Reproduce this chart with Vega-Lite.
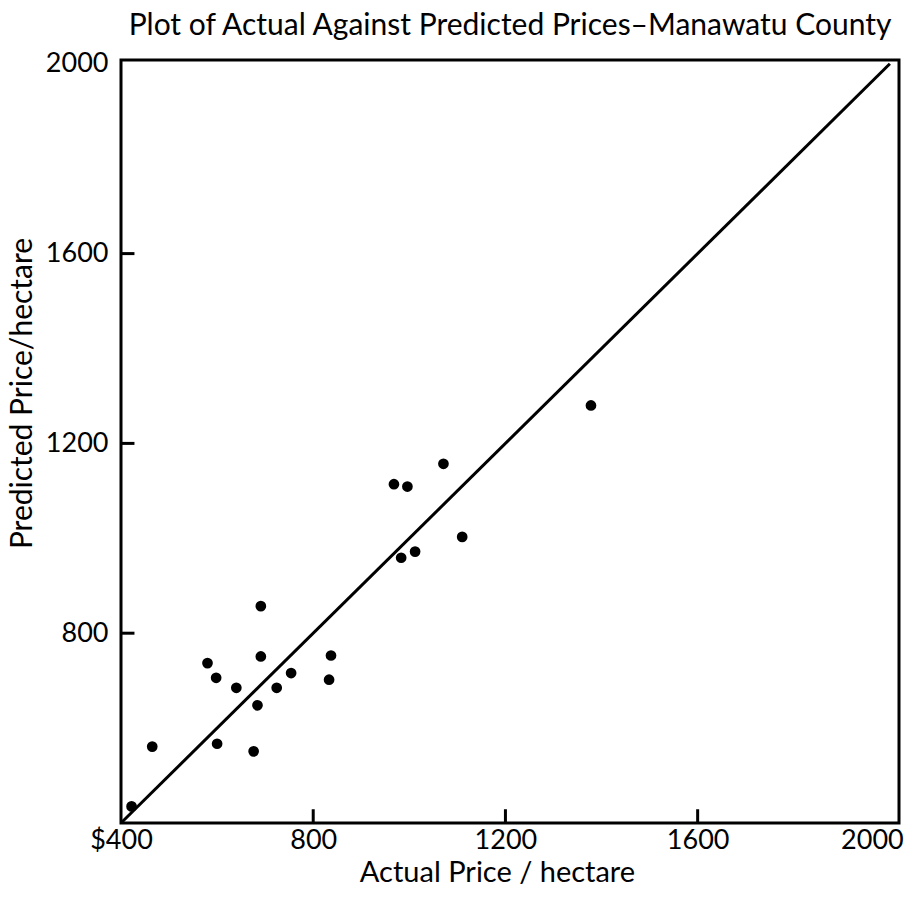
{
  "$schema": "https://vega.github.io/schema/vega-lite/v6.json",
  "autosize": {"type": "none"},
  "padding": {"left": 121, "top": 60, "right": 11, "bottom": 78},
  "width": 778,
  "height": 763,
  "background": "white",
  "title": {
    "text": "Plot of Actual Against Predicted Prices–Manawatu County",
    "font": "Lato",
    "fontSize": 30,
    "fontWeight": "normal",
    "color": "black",
    "anchor": "middle",
    "frame": "group",
    "baseline": "bottom",
    "offset": 18,
    "dy": 39
  },
  "config": {
    "view": {"stroke": "black", "strokeWidth": 3},
    "axis": {
      "domain": false,
      "grid": false,
      "ticks": false,
      "labelFlush": false,
      "labelFont": "Lato",
      "labelFontSize": 27,
      "labelColor": "black",
      "titleFont": "Lato",
      "titleFontWeight": "normal",
      "titleColor": "black"
    }
  },
  "datasets": {
    "points": [
      {"actual": 422, "predicted": 435},
      {"actual": 465, "predicted": 561},
      {"actual": 580, "predicted": 737},
      {"actual": 598, "predicted": 706},
      {"actual": 640, "predicted": 685},
      {"actual": 691, "predicted": 857},
      {"actual": 691, "predicted": 751},
      {"actual": 684, "predicted": 648},
      {"actual": 600, "predicted": 567},
      {"actual": 676, "predicted": 551},
      {"actual": 724, "predicted": 685},
      {"actual": 754, "predicted": 716},
      {"actual": 837, "predicted": 753},
      {"actual": 833, "predicted": 702},
      {"actual": 1378, "predicted": 1280},
      {"actual": 1071, "predicted": 1157},
      {"actual": 968, "predicted": 1114},
      {"actual": 996, "predicted": 1109},
      {"actual": 1110, "predicted": 1003},
      {"actual": 1012, "predicted": 972},
      {"actual": 983, "predicted": 959}
    ],
    "line": [
      {"actual": 400, "predicted": 400, "actual2": 2000, "predicted2": 2000}
    ],
    "tickvals": [
      {"v": 800},
      {"v": 1200},
      {"v": 1600}
    ]
  },
  "layer": [
    {
      "data": {"name": "line"},
      "mark": {"type": "rule", "color": "black", "strokeWidth": 3},
      "encoding": {
        "x": {
          "field": "actual", "type": "quantitative",
          "scale": {"domain": [400, 2019], "nice": false, "zero": false},
          "axis": {
            "values": [400, 800, 1200, 1600, 2000],
            "labelExpr": "datum.value == 400 ? '$400' : datum.label",
            "format": "d",
            "labelPadding": 4,
            "labelBaseline": "top",
            "labelOffset": {"condition": {"test": "datum.value == 2000", "value": -18}, "value": 0},
            "title": "Actual Price / hectare",
            "titleFontSize": 29,
            "titleX": 376,
            "titleY": 49,
            "titleBaseline": "middle",
            "titleAnchor": "middle"
          }
        },
        "y": {
          "field": "predicted", "type": "quantitative",
          "scale": {"domain": [400, 2008], "nice": false, "zero": false},
          "axis": {
            "values": [800, 1200, 1600, 2000],
            "format": "d",
            "labelPadding": 13,
            "title": "Predicted Price/hectare",
            "titleFontSize": 30,
            "titleX": -99,
            "titleY": 333,
            "titleBaseline": "middle",
            "titleAnchor": "middle"
          }
        },
        "x2": {"field": "actual2"},
        "y2": {"field": "predicted2"}
      }
    },
    {
      "data": {"name": "tickvals"},
      "mark": {"type": "rule", "color": "black", "strokeWidth": 3},
      "encoding": {
        "x": {"field": "v", "type": "quantitative"},
        "y": {"datum": 400, "type": "quantitative"},
        "y2": {"datum": 429}
      }
    },
    {
      "data": {"name": "tickvals"},
      "mark": {"type": "rule", "color": "black", "strokeWidth": 3},
      "encoding": {
        "y": {"field": "v", "type": "quantitative"},
        "x": {"datum": 400, "type": "quantitative"},
        "x2": {"datum": 428}
      }
    },
    {
      "data": {"name": "points"},
      "mark": {"type": "circle", "color": "black", "opacity": 1, "size": 115},
      "encoding": {
        "x": {"field": "actual", "type": "quantitative"},
        "y": {"field": "predicted", "type": "quantitative"}
      }
    }
  ]
}
